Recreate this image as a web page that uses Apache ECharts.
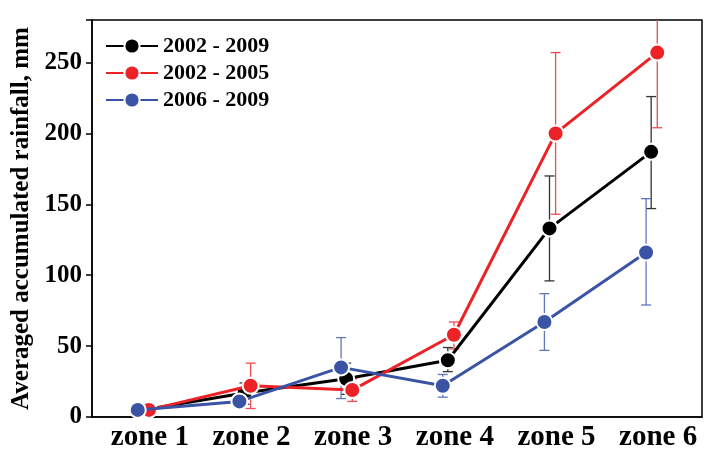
<!DOCTYPE html>
<html>
<head>
<meta charset="utf-8">
<script src="https://cdn.jsdelivr.net/npm/echarts@6/dist/echarts.min.js"></script>
<style>
  html, body { margin: 0; padding: 0; background: #fff; }
  #chart { width: 705px; height: 455px; }
</style>
</head>
<body>
<div id="chart"></div>
<script>
const zones = ['zone 1', 'zone 2', 'zone 3', 'zone 4', 'zone 5', 'zone 6']

// 2002 - 2009
const mean0209 = [5, 17, 27, 40, 133, 187]
const low0209 = [3, 9, 16, 32, 96, 147]
const high0209 = [7, 24, 38, 49, 170, 226]
// 2002 - 2005
const mean0205 = [5, 22, 19, 58, 200, 257]
const low0205 = [3, 6, 11, 48, 143, 204]
const high0205 = [8, 38, 27, 67, 257, 310]
// 2006 - 2009
const mean0609 = [5, 11, 35, 22, 67, 116]
const low0609 = [4, 8, 13, 14, 47, 79]
const high0609 = [7, 14, 56, 30, 87, 154]

const yTicks = [0, 50, 100, 150, 200, 250]

const font = 'Liberation Serif, Times New Roman, serif'

const groups = [
  { name: '2002 - 2009', color: '#000000', errColor: '#333333', shift: 0, mean: mean0209, low: low0209, high: high0209 },
  { name: '2002 - 2005', color: '#ec2227', errColor: '#ee4b50', shift: 0.06, mean: mean0205, low: low0205, high: high0205 },
  { name: '2006 - 2009', color: '#3a53a4', errColor: '#6076bb', shift: -0.05, mean: mean0609, low: low0609, high: high0609 }
]

function errorBars(g) {
  return {
    type: 'custom',
    name: g.name + ' err',
    xAxisIndex: 1,
    clip: true,
    z: 1,
    silent: true,
    itemStyle: { color: g.errColor },
    data: zones.map((z, i) => [i + 1 + g.shift, g.low[i], g.high[i]]),
    renderItem(params, api) {
      const lo = api.coord([api.value(0), api.value(1)])
      const hi = api.coord([api.value(0), api.value(2)])
      const half = 5
      const style = { stroke: g.errColor, lineWidth: 1.3 }
      return {
        type: 'group',
        children: [
          { type: 'line', shape: { x1: lo[0], y1: lo[1], x2: hi[0], y2: hi[1] }, style },
          { type: 'line', shape: { x1: hi[0] - half, y1: hi[1], x2: hi[0] + half, y2: hi[1] }, style },
          { type: 'line', shape: { x1: lo[0] - half, y1: lo[1], x2: lo[0] + half, y2: lo[1] }, style }
        ]
      }
    }
  }
}

const lineSeries = groups.map((g, k) => ({
  type: 'line',
  name: g.name,
  xAxisIndex: 1,
  z: 3 + k,
  data: zones.map((z, i) => [i + 1 + g.shift, g.mean[i]]),
  symbol: 'circle',
  symbolSize: 16,
  itemStyle: { color: g.color, borderColor: '#fff', borderWidth: 2 },
  lineStyle: { color: g.color, width: 3 },
  emphasis: { disabled: true }
}))

const chart = echarts.init(document.getElementById('chart'))
chart.setOption({
  animation: false,
  grid: { left: 92, right: 3, top: 20, bottom: 38, outerBoundsMode: 'none', containLabel: false },
  legend: {
    data: groups.map(g => g.name),
    orient: 'vertical',
    left: 100,
    top: 30,
    itemWidth: 52,
    itemHeight: 19,
    itemGap: 5,
    textStyle: { fontFamily: font, fontWeight: 'bold', fontSize: 22, color: '#000' }
  },
  xAxis: [
    {
      type: 'category',
      data: zones,
      boundaryGap: true,
      axisLine: { lineStyle: { color: '#000', width: 1.5 } },
      axisTick: { alignWithLabel: true, length: 6, lineStyle: { color: '#000', width: 1.5 } },
      axisLabel: {
        fontFamily: font, fontWeight: 'bold', fontSize: 29, color: '#000', margin: 6,
        padding: [0, 0, 0, 14]
      },
      splitLine: { show: false }
    },
    {
      type: 'value',
      min: 0.5,
      max: 6.5,
      show: false,
      splitLine: { show: false }
    }
  ],
  yAxis: {
    type: 'value',
    min: 0,
    max: 280,
    interval: 50,
    name: 'Averaged accumulated rainfall, mm',
    nameLocation: 'middle',
    nameGap: 58,
    nameTextStyle: { fontFamily: font, fontWeight: 'bold', fontSize: 25, color: '#000' },
    axisLine: { show: true, lineStyle: { color: '#000', width: 1.5 } },
    axisTick: { show: true, length: 6, lineStyle: { color: '#000', width: 1.5 } },
    axisLabel: {
      fontFamily: font, fontWeight: 'bold', fontSize: 25, color: '#000', margin: 10,
      formatter: v => (yTicks.indexOf(v) >= 0 ? String(v) : '')
    },
    splitLine: { show: false }
  },
  graphic: [{
    type: 'rect',
    shape: { x: 92, y: 20, width: 610, height: 397 },
    style: { fill: 'none', stroke: '#000', lineWidth: 1.5 },
    silent: true,
    z: 0
  }],
  series: lineSeries.concat(groups.map(errorBars))
})
</script>
</body>
</html>
